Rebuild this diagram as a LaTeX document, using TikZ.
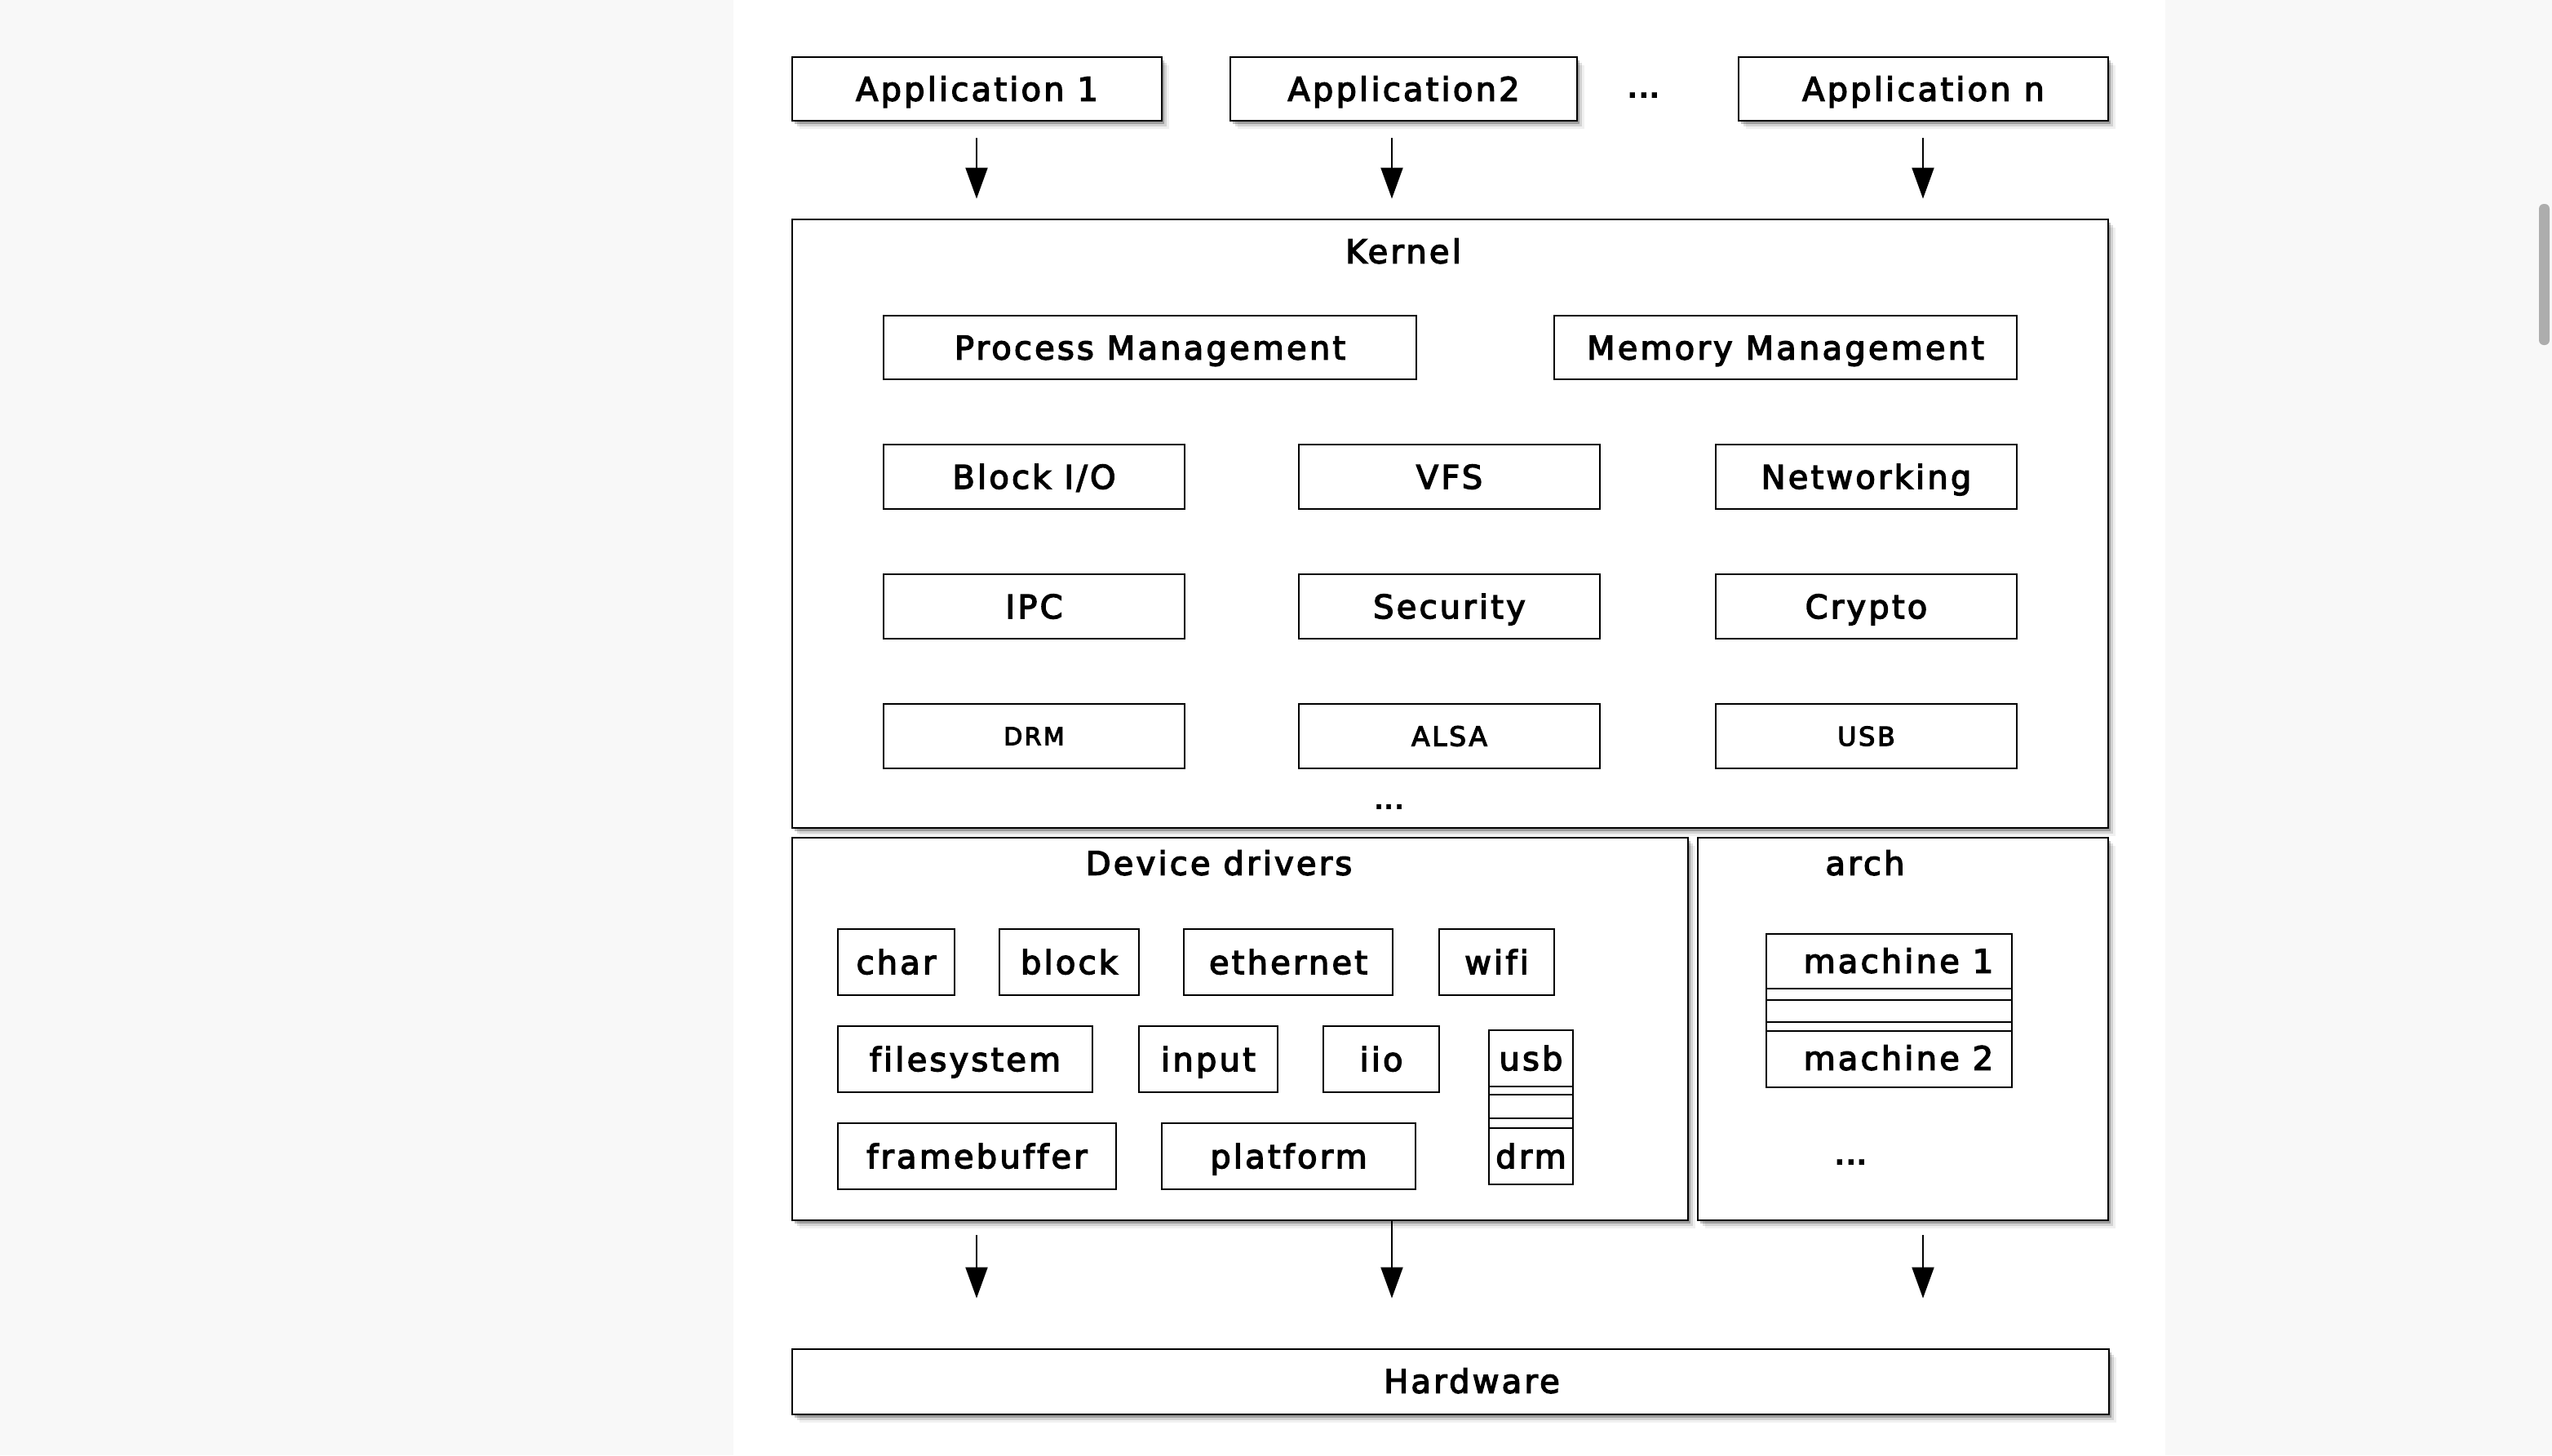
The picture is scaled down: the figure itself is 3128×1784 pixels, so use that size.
\documentclass[tikz,border=0pt]{standalone}
\usepackage{fontspec}
\setmainfont{DejaVu Sans}[LetterSpace=8, FakeBold=3.5, Ligatures=NoCommon]
\newfontfamily\dotsfont{DejaVu Sans Bold}
\usetikzlibrary{arrows.meta,shadows}
\definecolor{pagegray}{HTML}{F8F8F8}
\definecolor{scrollgray}{HTML}{ADADAD}
\tikzset{
  lbl/.style={inner sep=0pt, font=\fontsize{20pt}{24pt}\selectfont, text height=14.6pt, text depth=0pt},
  dots/.style={inner sep=0pt, font=\dotsfont\fontsize{18pt}{22pt}\selectfont},
  inbox/.style={lbl, draw, line width=1pt, fill=white, minimum height=39.5pt},
  shd/.style={drop shadow={shadow xshift=1.5pt, shadow yshift=-2pt, opacity=.25, fill=black},
              drop shadow={shadow xshift=3pt, shadow yshift=-3.5pt, opacity=.12, fill=black},
              drop shadow={shadow xshift=4.5pt, shadow yshift=-5pt, opacity=.06, fill=black}},
  outbox/.style={draw, line width=1.4pt, fill=white, inner sep=0pt, shd},
  stack/.style={draw, line width=1pt, fill=white, inner sep=0pt},
  arr/.style={line width=1pt, -{Triangle[length=19pt,width=13.5pt]}},
}
\begin{document}
\begin{tikzpicture}[x=0.5pt,y=-0.5pt]
\useasboundingbox (0,0) rectangle (3128,1784);
% page background
\fill[pagegray] (0,0) rectangle (899,1784);
\fill[white] (899,0) rectangle (2654,1784);
\fill[pagegray] (2654,0) rectangle (3128,1784);
\fill[scrollgray, rounded corners=3pt] (3112,250) rectangle (3125,423);

% columns for arrows
\coordinate (col1) at (1197,0);
\coordinate (col2) at (1706,0);
\coordinate (col3) at (2357,0);

% applications
\node[outbox, lbl, minimum width=226.5pt, minimum height=39pt] (app1) at (1197.5,109) {Application 1};
\node[outbox, lbl, minimum width=212.5pt, minimum height=39pt] (app2) at (1720.5,109) {Application2};
\node[dots] (appdots) at (2015,117) {...};
\node[outbox, lbl, minimum width=226.5pt, minimum height=39pt] (appn) at (2357.5,109) {Application n};

% kernel
\node[outbox, minimum width=806.5pt, minimum height=373pt] (kernel) at (1777.5,642) {};
\node[lbl] (kernellbl) at (1720,308) {Kernel};
\node[inbox, minimum width=326.5pt, minimum height=39pt] (pm) at (1409.5,426) {Process Management};
\node[inbox, minimum width=283.5pt, minimum height=39pt] (mm) at (2188.5,426) {Memory Management};
\node[inbox, minimum width=184.5pt] (bio) at (1267.5,584.5) {Block I/O};
\node[inbox, minimum width=184.5pt] (vfs) at (1776.5,584.5) {VFS};
\node[inbox, minimum width=184.5pt] (net) at (2287.5,584.5) {Networking};
\node[inbox, minimum width=184.5pt] (ipc) at (1267.5,743.5) {IPC};
\node[inbox, minimum width=184.5pt] (sec) at (1776.5,743.5) {Security};
\node[inbox, minimum width=184.5pt] (cry) at (2287.5,743.5) {Crypto};
\node[inbox, minimum width=184.5pt, font=\fontsize{15pt}{18pt}\selectfont, text height=10.9pt] (drmk) at (1267.5,902.5) {DRM};
\node[inbox, minimum width=184.5pt, font=\fontsize{16.5pt}{19pt}\selectfont, text height=12pt] (alsa) at (1776.5,902.5) {ALSA};
\node[inbox, minimum width=184.5pt, font=\fontsize{16pt}{19pt}\selectfont, text height=11.7pt] (usbk) at (2287.5,902.5) {USB};
\node[dots, font=\dotsfont\fontsize{16pt}{19pt}\selectfont] (kdots) at (1703,989) {...};

% device drivers
\node[outbox, minimum width=549pt, minimum height=234.5pt] (dd) at (1520,1261.5) {};
\node[lbl] (ddlbl) at (1494,1058) {Device drivers};
\node[inbox, minimum width=71.5pt, minimum height=40.5pt] (char) at (1098.5,1179.5) {char};
\node[inbox, minimum width=85.5pt, minimum height=40.5pt] (block) at (1310.5,1179.5) {block};
\node[inbox, minimum width=128pt, minimum height=40.5pt] (eth) at (1579,1179.5) {ethernet};
\node[inbox, minimum width=70.5pt, minimum height=40.5pt] (wifi) at (1834.5,1179.5) {wifi};
\node[inbox, minimum width=156pt, minimum height=40.5pt] (fs) at (1183,1298.5) {filesystem};
\node[inbox, minimum width=85pt, minimum height=40.5pt] (input) at (1481,1298.5) {input};
\node[inbox, minimum width=71pt, minimum height=40.5pt] (iio) at (1693,1298.5) {iio};
\node[inbox, minimum width=170.5pt, minimum height=40.5pt] (fb) at (1197.5,1417.5) {framebuffer};
\node[inbox, minimum width=155.5pt, minimum height=40.5pt] (plat) at (1579.5,1417.5) {platform};
\node[stack, minimum width=51.5pt, minimum height=94.5pt] (usbst) at (1876.5,1357.5) {};
\foreach \yy in {1332,1342,1371,1383}
  \draw[line width=1pt] (usbst.west |- 0,\yy) -- (usbst.east |- 0,\yy);
\node[lbl] (usb) at (1876.5,1297.5) {usb};
\node[lbl] (drm) at (1876.5,1417.5) {drm};

% arch
\node[outbox, minimum width=251.5pt, minimum height=234.5pt] (arch) at (2332.5,1261.5) {};
\node[lbl] (archlbl) at (2286,1058) {arch};
\node[stack, minimum width=150.5pt, minimum height=94pt] (mst) at (2315.5,1239) {};
\foreach \yy in {1212,1226,1253,1264}
  \draw[line width=1pt] (mst.west |- 0,\yy) -- (mst.east |- 0,\yy);
\node[lbl] (m1) at (2327,1178) {machine 1};
\node[lbl] (m2) at (2327,1297) {machine 2};
\node[dots] (adots) at (2269,1425) {...};

% hardware
\node[outbox, minimum width=807pt, minimum height=40pt] (hw) at (1778,1694) {};
\node[lbl] (hwlbl) at (1804,1693) {Hardware};

% arrows
\draw[arr, shorten <=10pt, shorten >=12pt] (col1 |- app1.south) -- (col1 |- kernel.north);
\draw[arr, shorten <=10pt, shorten >=12pt] (col2 |- app2.south) -- (col2 |- kernel.north);
\draw[arr, shorten <=10pt, shorten >=12pt] (col3 |- appn.south) -- (col3 |- kernel.north);
\draw[arr, shorten <=8.5pt, shorten >=30.5pt] (col1 |- dd.south) -- (col1 |- hw.north);
\draw[arr, shorten >=30.5pt] (col2 |- dd.south) -- (col2 |- hw.north);
\draw[arr, shorten <=8.5pt, shorten >=30.5pt] (col3 |- arch.south) -- (col3 |- hw.north);
\end{tikzpicture}
\end{document}
